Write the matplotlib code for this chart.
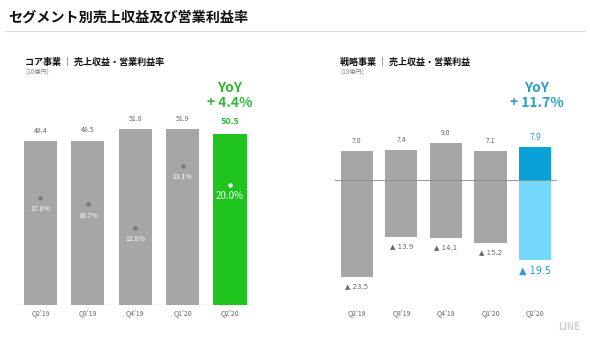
import matplotlib
matplotlib.use("Agg")
import matplotlib.pyplot as plt

plt.rcParams['font.family'] = ['Noto Sans CJK JP', 'DejaVu Sans']

# data
quarters = ["Q2'19", "Q3'19", "Q4'19", "Q1'20", "Q2'20"]
core_rev = [48.4, 48.5, 51.8, 51.9, 50.5]
core_margin = [17.8, 16.7, 12.8, 23.1, 20.0]
strat_rev = [7.0, 7.4, 9.0, 7.1, 7.9]
strat_op = [-23.5, -13.9, -14.1, -15.2, -19.5]

GREY = "#a6a6a6"
GREEN = "#1fc41f"
GREEN_TXT = "#35b535"
BLUE = "#0aa0d8"
LBLUE = "#74d8fc"
BLUE_TXT = "#2a9fc6"
TXT = "#666666"

W, H = 590, 346
fig = plt.figure(figsize=(W / 100, H / 100), dpi=100)

def px_axes(x0, y_top, x1, y_bot):
    return fig.add_axes([x0 / W, 1 - y_bot / H, (x1 - x0) / W, (y_bot - y_top) / H])

# header
fig.text(8 / W, 1 - 18 / H, "セグメント別売上収益及び営業利益率", fontsize=10.2,
         fontweight="bold", va="center", ha="left", color="#111111")
fig.add_artist(plt.Line2D([5 / W, 585 / W], [1 - 31 / H, 1 - 31 / H], color="#dddddd", lw=0.8))

fig.text(25 / W, 1 - 62 / H, "コア事業 ｜ 売上収益・営業利益率", fontsize=6.5,
         fontweight="bold", va="center", color="#111111")
fig.text(25 / W, 1 - 73 / H, "(10億円)", fontsize=4.5, va="center", color="#888888")
fig.text(340 / W, 1 - 62 / H, "戦略事業 ｜ 売上収益・営業利益", fontsize=6.5,
         fontweight="bold", va="center", color="#111111")
fig.text(340 / W, 1 - 73 / H, "(10億円)", fontsize=4.5, va="center", color="#888888")

# ---- left: core business
ax = px_axes(16, 60, 255, 305)
x = range(len(quarters))
cols = [GREY] * 4 + [GREEN]
ax.bar(x, core_rev, width=0.70, color=cols, zorder=2)
ax.set_xlim(-0.517, 4.527)
ax.set_ylim(0, 245 / 3.39)
ax.axhline(0, color="#999999", lw=0.8, zorder=3)
for i, v in enumerate(core_rev):
    last = i == 4
    ax.annotate(f"{v:.1f}", (i, v), xytext=(0, 8.5 if last else 7.5), textcoords="offset points",
                ha="center", va="center", fontsize=6.5 if last else 5,
                color=GREEN_TXT if last else TXT, fontweight="bold" if last else "normal")
ax.set_xticks(list(x))
ax.set_xticklabels(quarters, fontsize=5, color=TXT)
ax.tick_params(length=0, pad=3)
for s in ax.spines.values():
    s.set_visible(False)
ax.set_yticks([])

# operating margin on its own scale
ax2 = ax.twinx()
ax2.set_ylim(0, 245 / 6.02)
for i, r in enumerate(core_margin):
    last = i == 4
    ax2.plot(i, r, "o", ms=2.2, color="white" if last else "#777777", zorder=4)
    ax2.annotate(f"{r:.1f}%", (i, r), xytext=(0, -8), textcoords="offset points",
                 ha="center", va="center", fontsize=7 if last else 5, color="white")
ax2.set_yticks([])
for s in ax2.spines.values():
    s.set_visible(False)

fig.text(230 / W, 1 - 88 / H, "YoY", fontsize=10, fontweight="bold", color=GREEN_TXT,
         ha="center", va="center")
fig.text(230 / W, 1 - 103 / H, "+ 4.4%", fontsize=10, fontweight="bold", color=GREEN_TXT,
         ha="center", va="center")

# ---- right: strategic business
bx = px_axes(335, 60, 557, 305)
bx.bar(x, strat_rev, width=0.72, color=[GREY] * 4 + [BLUE], zorder=2)
bx.bar(x, strat_op, width=0.72, color=[GREY] * 4 + [LBLUE], zorder=2)
bx.set_xlim(-0.487, 4.49)
bx.set_ylim(-(305 - 180) / 4.12, (180 - 60) / 4.12)
bx.axhline(0, color="#888888", lw=0.6, zorder=3)
for i, v in enumerate(strat_rev):
    last = i == 4
    bx.annotate(f"{v:.1f}", (i, v), xytext=(0, 7), textcoords="offset points",
                ha="center", va="center", fontsize=6 if last else 5,
                color=BLUE_TXT if last else TXT)
for i, v in enumerate(strat_op):
    last = i == 4
    bx.annotate(f"▲ {abs(v):.1f}", (i, v), xytext=(0, -7.5 if last else -6.5),
                textcoords="offset points", ha="center", va="center",
                fontsize=7 if last else 5, color=BLUE_TXT if last else TXT,
                family=['DejaVu Sans'])
bx.set_xticks(list(x))
bx.set_xticklabels(quarters, fontsize=5, color=TXT)
bx.tick_params(length=0, pad=3)
bx.set_yticks([])
for s in bx.spines.values():
    s.set_visible(False)

fig.text(537 / W, 1 - 88 / H, "YoY", fontsize=10, fontweight="bold", color=BLUE_TXT,
         ha="center", va="center")
fig.text(537 / W, 1 - 103 / H, "+ 11.7%", fontsize=10, fontweight="bold", color=BLUE_TXT,
         ha="center", va="center")

fig.text(569 / W, 1 - 327 / H, "LINE", fontsize=7, fontweight="bold", color="#d0d0d0",
         ha="center", va="center")

fig.savefig("out.png", dpi=100)
